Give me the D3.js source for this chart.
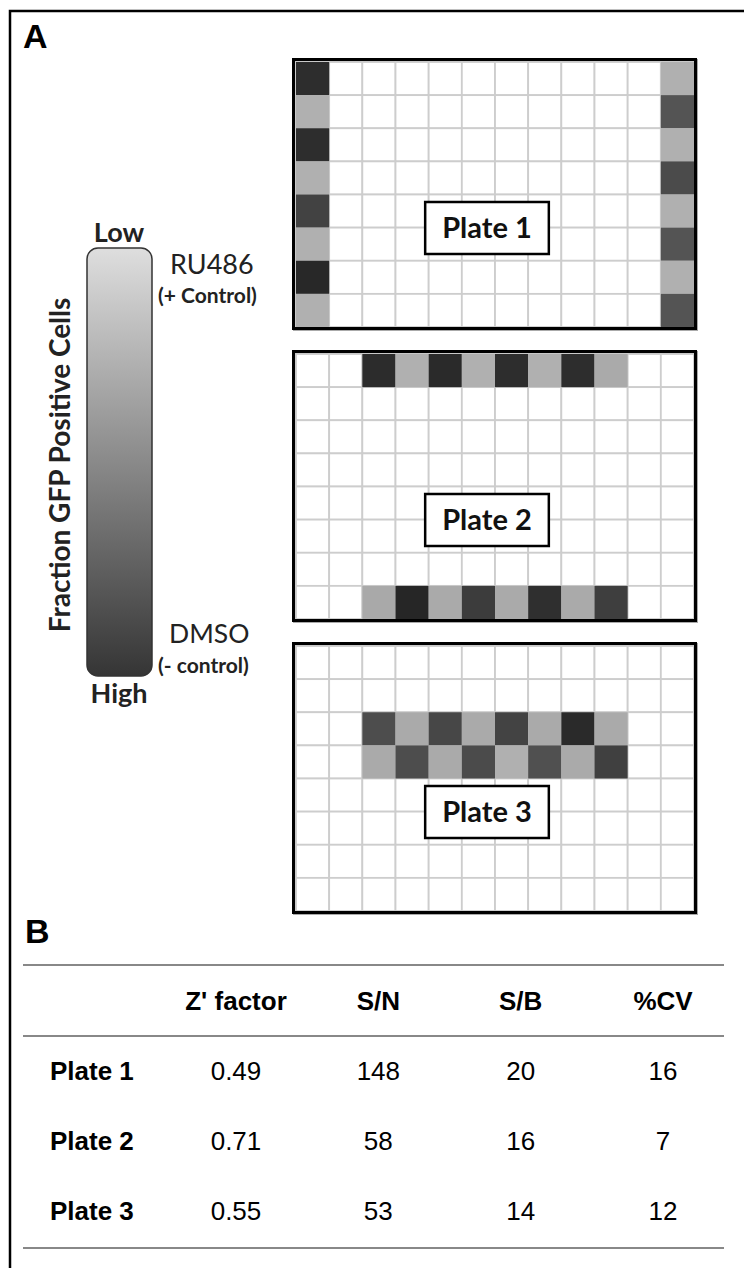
<!DOCTYPE html>
<html>
<head>
<meta charset="utf-8">
<script src="https://cdn.jsdelivr.net/npm/d3@7"></script>
<style>
  body { margin: 0; background: #fff; }
  svg { display: block; }
</style>
</head>
<body>
<svg id="chart"></svg>
<script>
const W = 744;
const H = 1268;

// plate layout: 8 rows x 12 columns
const rowNames = ['A', 'B', 'C', 'D', 'E', 'F', 'G', 'H'];
const colNames = [1, 2, 3, 4, 5, 6, 7, 8, 9, 10, 11, 12];
const plateNames = ['Plate 1', 'Plate 2', 'Plate 3'];

// fraction GFP positive cells per control well (0 = low, 1 = high)
// plate 1: columns 1 and 12, rows A-H
const p1Col1 = [0.96, 0.25, 0.96, 0.25, 0.85, 0.25, 0.99, 0.25];
const p1Col12 = [0.25, 0.75, 0.25, 0.8, 0.25, 0.75, 0.25, 0.75];
// plate 2: rows A and H, columns 3-10
const p2RowA = [0.97, 0.25, 0.98, 0.25, 0.96, 0.25, 0.96, 0.28];
const p2RowH = [0.29, 1.0, 0.28, 0.88, 0.28, 0.95, 0.28, 0.87];
// plate 3: rows C and D, columns 3-10
const p3RowC = [0.79, 0.28, 0.82, 0.28, 0.84, 0.28, 0.98, 0.28];
const p3RowD = [0.28, 0.79, 0.28, 0.8, 0.25, 0.77, 0.28, 0.86];
const innerCols = [3, 4, 5, 6, 7, 8, 9, 10];

// table B
const tableHeaders = ["Z' factor", 'S/N', 'S/B', '%CV'];
const zFactor = [0.49, 0.71, 0.55];
const snRatio = [148, 58, 53];
const sbRatio = [20, 16, 14];
const cvPercent = [16, 7, 12];

const calibri = 'Lato, "Open Sans", sans-serif';
const arial = '"Liberation Sans", Arial, sans-serif';

const svg = d3.select('#chart').attr('width', W).attr('height', H);

const gray = d3
  .scaleLinear()
  .domain([0, 1])
  .range(['#dedede', '#262626']);

// build the well lists from the arrays above
function columnWells(col, values) {
  return values.map((v, i) => ({ row: rowNames[i], col, gfp: v }));
}
function rowWells(row, values) {
  return values.map((v, i) => ({ row, col: innerCols[i], gfp: v }));
}
const plateWells = [
  columnWells(1, p1Col1).concat(columnWells(12, p1Col12)),
  rowWells('A', p2RowA).concat(rowWells('H', p2RowH)),
  rowWells('C', p3RowC).concat(rowWells('D', p3RowD)),
];

// outer frame (only left and top edges visible)
svg
  .append('path')
  .attr('d', `M10,${H} V11 H${W}`)
  .attr('fill', 'none')
  .attr('stroke', '#000')
  .attr('stroke-width', 2.5);

svg
  .append('text')
  .attr('x', 23)
  .attr('y', 48)
  .style('font-family', arial)
  .style('font-weight', 'bold')
  .style('font-size', '34px')
  .text('A');

// ---- gradient legend ----
const defs = svg.append('defs');
const grad = defs
  .append('linearGradient')
  .attr('id', 'gfp-grad')
  .attr('x1', 0)
  .attr('y1', 0)
  .attr('x2', 0)
  .attr('y2', 1);
grad.append('stop').attr('offset', '0%').attr('stop-color', gray(0));
grad.append('stop').attr('offset', '100%').attr('stop-color', gray(0.92));

const bar = { x: 87, y: 248, w: 65, h: 428 };
svg
  .append('rect')
  .attr('x', bar.x)
  .attr('y', bar.y)
  .attr('width', bar.w)
  .attr('height', bar.h)
  .attr('rx', 11)
  .attr('fill', 'url(#gfp-grad)')
  .attr('stroke', '#333')
  .attr('stroke-width', 1.5);

const legendText = [
  { t: 'Low', x: 119, y: 242, size: 27, w: 'bold', anchor: 'middle' },
  { t: 'High', x: 119, y: 703, size: 27, w: 'bold', anchor: 'middle' },
  { t: 'RU486', x: 170, y: 274, size: 27, w: 'normal', anchor: 'start' },
  { t: '(+ Control)', x: 158, y: 303, size: 21, w: 'bold', anchor: 'start' },
  { t: 'DMSO', x: 169, y: 643, size: 26.5, w: 'normal', anchor: 'start' },
  { t: '(- control)', x: 158, y: 673, size: 21, w: 'bold', anchor: 'start' },
];
svg
  .selectAll('text.legend')
  .data(legendText)
  .enter()
  .append('text')
  .attr('class', 'legend')
  .attr('x', d => d.x)
  .attr('y', d => d.y)
  .attr('text-anchor', d => d.anchor)
  .style('font-family', calibri)
  .style('font-size', d => `${d.size}px`)
  .style('font-weight', d => d.w)
  .style('fill', '#222')
  .text(d => d.t);

svg
  .append('text')
  .attr('transform', 'translate(70,465) rotate(-90)')
  .attr('text-anchor', 'middle')
  .style('font-family', calibri)
  .style('font-size', '28px')
  .style('font-weight', 'bold')
  .style('fill', '#222')
  .text('Fraction GFP Positive Cells');

// ---- plates ----
const plateY = d3
  .scaleBand()
  .domain(plateNames)
  .range([58, 914])
  .paddingInner(0.0685);

const colX = d3
  .scaleBand()
  .domain(colNames)
  .range([296, 694]);

plateNames.forEach((name, pi) => {
  const top = plateY(name);
  const h = plateY.bandwidth();
  const rowY = d3
    .scaleBand()
    .domain(rowNames)
    .range([top + 4, top + h - 3]);

  const g = svg.append('g').attr('class', 'plate');

  // soft shadow
  g.append('rect')
    .attr('x', 294.5)
    .attr('y', top + 2.5)
    .attr('width', 402)
    .attr('height', h - 3)
    .attr('fill', 'none')
    .attr('stroke', '#aaa')
    .attr('stroke-width', 3);

  const allWells = [];
  rowNames.forEach(r => colNames.forEach(c => allWells.push({ row: r, col: c })));

  g.selectAll('rect.well')
    .data(allWells)
    .enter()
    .append('rect')
    .attr('class', 'well')
    .attr('x', d => colX(d.col))
    .attr('y', d => rowY(d.row))
    .attr('width', colX.bandwidth())
    .attr('height', rowY.bandwidth())
    .attr('fill', '#fff')
    .attr('stroke', '#cdcdcd')
    .attr('stroke-width', 1.8);

  g.selectAll('rect.ctrl')
    .data(plateWells[pi])
    .enter()
    .append('rect')
    .attr('class', 'ctrl')
    .attr('x', d => colX(d.col))
    .attr('y', d => rowY(d.row))
    .attr('width', colX.bandwidth())
    .attr('height', rowY.bandwidth())
    .attr('fill', d => gray(d.gfp));

  g.append('rect')
    .attr('x', 293.5)
    .attr('y', top + 1.5)
    .attr('width', 402)
    .attr('height', h - 3)
    .attr('fill', 'none')
    .attr('stroke', '#000')
    .attr('stroke-width', 3);

  // label box
  const cx = 487;
  const cy = top + 170;
  const box = g.append('rect');
  const label = g
    .append('text')
    .attr('x', cx)
    .attr('y', cy + 10)
    .attr('text-anchor', 'middle')
    .style('font-family', calibri)
    .style('font-size', '29px')
    .style('font-weight', 'bold')
    .style('fill', '#111')
    .text(name);
  const tw = label.node().getComputedTextLength() + 34;
  box
    .attr('x', cx - tw / 2)
    .attr('y', cy - 26)
    .attr('width', tw)
    .attr('height', 52)
    .attr('fill', '#fff')
    .attr('stroke', '#000')
    .attr('stroke-width', 2.5);
});

// ---- B: table ----
svg
  .append('text')
  .attr('x', 25)
  .attr('y', 943)
  .style('font-family', arial)
  .style('font-weight', 'bold')
  .style('font-size', '34px')
  .text('B');

const colCenter = d3
  .scalePoint()
  .domain(tableHeaders)
  .range([236, 663]);

const rowBase = d3
  .scalePoint()
  .domain(plateNames)
  .range([1080, 1220]);

[965, 1036, 1248].forEach(yy => {
  svg
    .append('line')
    .attr('x1', 23)
    .attr('x2', 724)
    .attr('y1', yy)
    .attr('y2', yy)
    .attr('stroke', '#888')
    .attr('stroke-width', 2);
});

svg
  .selectAll('text.head')
  .data(tableHeaders)
  .enter()
  .append('text')
  .attr('class', 'head')
  .attr('x', d => colCenter(d))
  .attr('y', 1010)
  .attr('text-anchor', 'middle')
  .style('font-family', arial)
  .style('font-size', '26px')
  .style('font-weight', 'bold')
  .text(d => d);

svg
  .selectAll('text.rowlab')
  .data(plateNames)
  .enter()
  .append('text')
  .attr('class', 'rowlab')
  .attr('x', 50)
  .attr('y', d => rowBase(d))
  .style('font-family', arial)
  .style('font-size', '26px')
  .style('font-weight', 'bold')
  .text(d => d);

const fmt = d3.format('.2f');
const columns = [zFactor.map(fmt), snRatio, sbRatio, cvPercent];
columns.forEach((vals, ci) => {
  svg
    .selectAll(`text.val${ci}`)
    .data(vals)
    .enter()
    .append('text')
    .attr('class', `val${ci}`)
    .attr('x', colCenter(tableHeaders[ci]))
    .attr('y', (d, i) => rowBase(plateNames[i]))
    .attr('text-anchor', 'middle')
    .style('font-family', arial)
    .style('font-size', '26px')
    .text(d => d);
});
</script>
</body>
</html>
